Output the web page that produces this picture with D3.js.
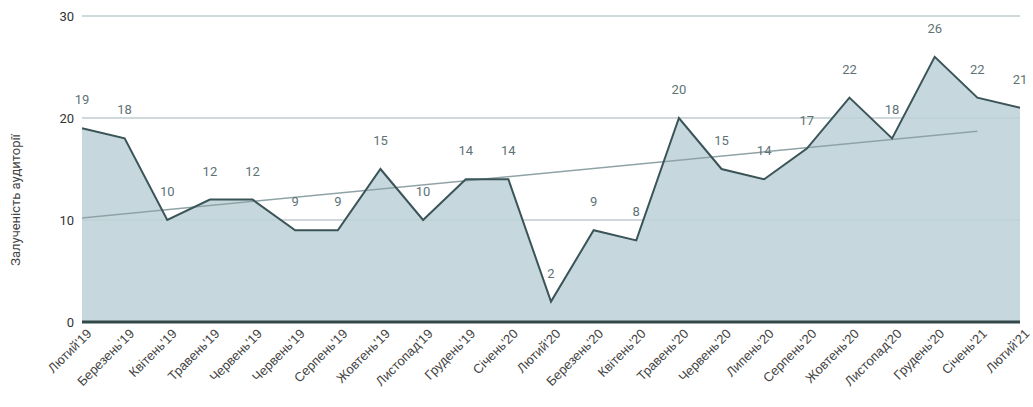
<!DOCTYPE html>
<html>
<head>
<meta charset="utf-8">
<script src="https://cdn.jsdelivr.net/npm/d3@7"></script>
<style>
  html, body { margin: 0; padding: 0; background: #fff; }
  svg { display: block; font-family: Roboto, "Liberation Sans", Arial, sans-serif; }
</style>
</head>
<body>
<svg id="chart" width="1033" height="407"></svg>
<script>
const categories = ["Лютий'19","Березень'19","Квітень'19","Травень'19","Червень'19","Червень'19","Серпень'19","Жовтень'19","Листопад'19","Грудень'19","Січень'20","Лютий'20","Березень'20","Квітень'20","Травень'20","Червень'20","Липень'20","Серпень'20","Жовтень'20","Листопад'20","Грудень'20","Січень'21","Лютий'21"];
const values = [19,18,10,12,12,9,9,15,10,14,14,2,9,8,20,15,14,17,22,18,26,22,21];
const trendIndex = [0, 21];
const trendValues = [10.2, 18.7];
const yTicks = [0, 10, 20, 30];
const yTitle = "Залученість аудиторії";

const svg = d3.select("#chart");
const x = d3.scalePoint().domain(d3.range(categories.length)).range([82, 1020]);
const y = d3.scaleLinear().domain([0, 30]).range([322, 16]);

// gridlines
svg.append("g").selectAll("line").data(yTicks.filter(d => d > 0)).join("line")
  .attr("x1", 82).attr("x2", 1020)
  .attr("y1", d => y(d)).attr("y2", d => y(d))
  .attr("stroke", "#dcdcdc").attr("stroke-width", 1.5);

// area
const area = d3.area().x((d, i) => x(i)).y0(y(0)).y1(d => y(d));
svg.append("path").datum(values).attr("d", area).attr("fill", "#c6d8dd");

// gridlines over area (subtle)
svg.append("g").selectAll("line").data(yTicks.filter(d => d > 0)).join("line")
  .attr("x1", 82).attr("x2", 1020)
  .attr("y1", d => y(d)).attr("y2", d => y(d))
  .attr("stroke", "#b9cdd2").attr("stroke-width", 1.2);

// trend line
svg.append("line")
  .attr("x1", x(trendIndex[0])).attr("y1", y(trendValues[0]))
  .attr("x2", x(trendIndex[1])).attr("y2", y(trendValues[1]))
  .attr("stroke", "#8fa3a6").attr("stroke-width", 1.5);

// main line
const line = d3.line().x((d, i) => x(i)).y(d => y(d));
svg.append("path").datum(values).attr("d", line)
  .attr("fill", "none").attr("stroke", "#3a5457").attr("stroke-width", 2)
  .attr("stroke-linejoin", "miter");

// baseline
svg.append("line").attr("x1", 82).attr("x2", 1020)
  .attr("y1", y(0)).attr("y2", y(0))
  .attr("stroke", "#33484b").attr("stroke-width", 3);

// y tick labels
svg.append("g").selectAll("text").data(yTicks).join("text")
  .attr("x", 74).attr("y", d => y(d)).attr("dy", "0.35em")
  .attr("text-anchor", "end").attr("font-size", 13).attr("fill", "#333")
  .text(d => d);

// y title
svg.append("text")
  .attr("transform", `translate(20,${200}) rotate(-90)`)
  .attr("text-anchor", "middle").attr("font-size", 13).attr("fill", "#444")
  .text(yTitle);

// x labels
svg.append("g").selectAll("text").data(categories).join("text")
  .attr("transform", (d, i) => `translate(${x(i) + 4},${y(0) + 6}) rotate(-45)`)
  .attr("text-anchor", "end").attr("font-size", 13)
  .attr("font-family", "'Liberation Sans', Arial, sans-serif").attr("fill", "#444")
  .attr("dy", "0.7em")
  .text(d => d);

// data labels
svg.append("g").selectAll("text").data(values).join("text")
  .attr("x", (d, i) => x(i)).attr("y", d => y(d) - 24)
  .attr("text-anchor", "middle").attr("font-size", 13).attr("fill", "#5e7275")
  .text(d => d);
</script>
</body>
</html>
